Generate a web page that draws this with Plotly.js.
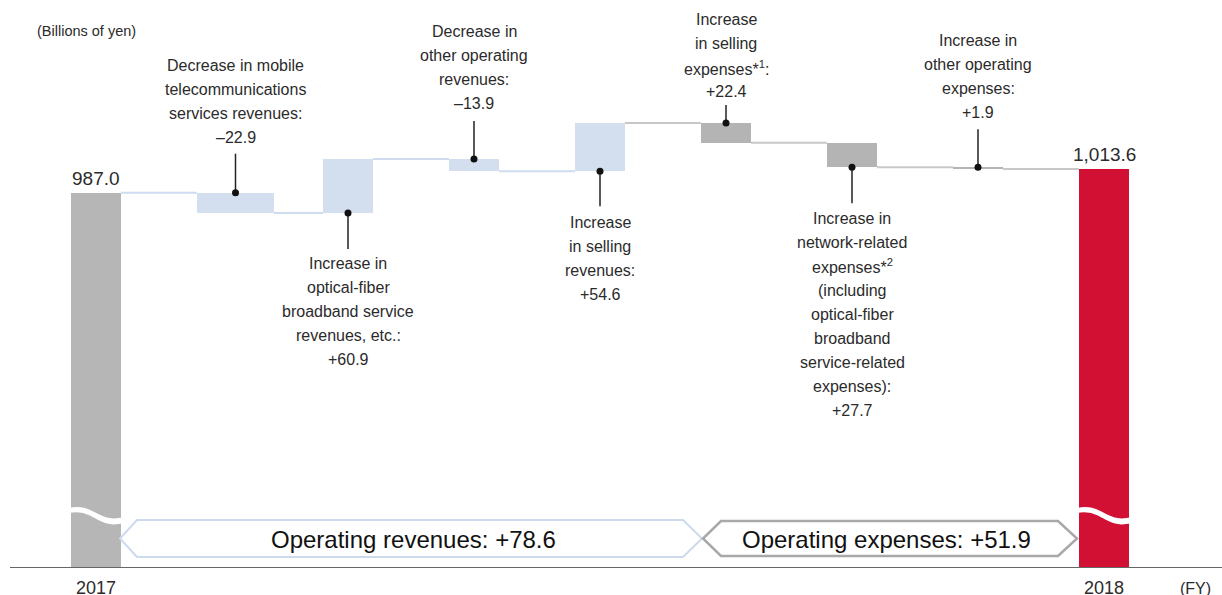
<!DOCTYPE html>
<html>
<head>
<meta charset="utf-8">
<script src="https://cdn.plot.ly/plotly-3.0.1.min.js"></script>
<style>
  html, body { margin: 0; padding: 0; background: #fff; }
  #chart { width: 1222px; height: 595px; }
</style>
</head>
<body>
<div id="chart"></div>
<script>
/* ---------- data ---------- */

const steps = ['2017', 'mobile', 'optical', 'otherRev', 'sellingRev', 'sellingExp', 'networkExp', 'otherExp', '2018'];
const deltas = [987.0, -22.9, 60.9, -13.9, 54.6, -22.4, -27.7, -1.9, 1013.6];
const measures = ['total', 'relative', 'relative', 'relative', 'relative', 'relative', 'relative', 'relative', 'total'];
const groups = ['start', 'rev', 'rev', 'rev', 'rev', 'exp', 'exp', 'exp', 'end'];
const yearLabels = ['2017', '2018'];

const stepTexts = [
    '',
    'Decrease in mobile<br>telecommunications<br>services revenues:',
    'Increase in<br>optical-fiber<br>broadband service<br>revenues, etc.:',
    'Decrease in<br>other operating<br>revenues:',
    'Increase<br>in selling<br>revenues:',
    'Increase<br>in selling<br>expenses*<sup>1</sup>:',
    'Increase in<br>network-related<br>expenses*<sup>2</sup><br>(including<br>optical-fiber<br>broadband<br>service-related<br>expenses):',
    'Increase in<br>other operating<br>expenses:',
    ''
];

const revenueTotal = 78.6;
const expenseTotal = 51.9;

/* ---------- styles ---------- */

const W = 1222, H = 595;
const M = { l: 10, r: 0, t: 20, b: 28 };
const PX_PER_STEP = 126;
const FIRST_BAR_PX = 96;
const PX_PER_UNIT = 0.886;
const BASE_PX = 192.7;   // pixel row of the first total

const colors = { start: '#b5b6b5', rev: '#d3deef', exp: '#b4b4b4', end: '#d21034' };
const connectorColors = { rev: '#cfdbee', exp: '#c8c8c8' };
const barWidths = [50, 77, 50, 50, 50, 50, 50, 50, 50].map(w => w / PX_PER_STEP);
const barOffset = -25 / PX_PER_STEP;
const labelSide = ['', 'above', 'below', 'above', 'below', 'above', 'below', 'above', ''];
const leaderLen = [0, 39, 36, 38, 35, 18, 36, 38, 0];      // px
const labelOffset = [0, 55, 51, 56, 51, 31, 51, 55, 0];    // px, dot to nearest text line
const LINE_GAP = 24;

const labelFont = { family: 'Liberation Sans, Arial, sans-serif', size: 16, color: '#2b2b2b' };
const bannerFont = { family: 'Liberation Sans, Arial, sans-serif', size: 24, color: '#111' };

function px(xp) { return (xp - M.l) / (W - M.l - M.r); }
function py(yp) { return (H - M.b - yp) / (H - M.t - M.b); }

/* ---------- waterfall geometry from the data ---------- */

const x = steps.map((_, i) => i);
const bases = [];
const ends = [];
let level = 0;
deltas.forEach((d, i) => {
    if (measures[i] === 'total') {
        bases.push(0);
        level = d;
    } else {
        bases.push(level);
        level += d;
    }
    ends.push(level);
});

const fmt = v => (v < 0 ? '–' : '+') + Math.abs(v).toFixed(1);
const fmtTotal = v => v.toLocaleString('en-US', { minimumFractionDigits: 1, maximumFractionDigits: 1 });

const barTrace = {
    type: 'bar',
    x: x,
    y: deltas,
    base: bases,
    width: barWidths,
    offset: barOffset,
    marker: { color: groups.map(g => colors[g]), line: { width: 0 } },
    hoverinfo: 'skip'
};

function connectorTrace(group) {
    const cx = [], cy = [];
    for (let i = 0; i < steps.length - 1; i++) {
        const g = i < 4 ? 'rev' : 'exp';
        if (g !== group) continue;
        cx.push(x[i] + barOffset + barWidths[i], x[i + 1] + barOffset, null);
        cy.push(ends[i], ends[i], null);
    }
    return {
        type: 'scatter', mode: 'lines', x: cx, y: cy,
        line: { color: connectorColors[group], width: 2 },
        hoverinfo: 'skip'
    };
}

const centers = x.map((v, i) => v + barOffset + barWidths[i] / 2);
const anchorY = deltas.map((d, i) => {
    const lo = Math.min(bases[i], ends[i]);
    const hi = Math.max(bases[i], ends[i]);
    return labelSide[i] === 'above' ? hi : lo;
});
const dotIdx = x.filter(i => labelSide[i] !== '');

const dotTrace = {
    type: 'scatter', mode: 'markers',
    x: dotIdx.map(i => centers[i]),
    y: dotIdx.map(i => anchorY[i]),
    marker: { color: '#111', size: 7 },
    hoverinfo: 'skip'
};

const leaderX = [], leaderY = [];
dotIdx.forEach(i => {
    const dir = labelSide[i] === 'above' ? 1 : -1;
    leaderX.push(centers[i], centers[i], null);
    leaderY.push(anchorY[i], anchorY[i] + dir * leaderLen[i] / PX_PER_UNIT, null);
});
const leaderTrace = {
    type: 'scatter', mode: 'lines', x: leaderX, y: leaderY,
    line: { color: '#222', width: 1.5 }, hoverinfo: 'skip'
};

/* ---------- annotations ---------- */

const annotations = [];

dotIdx.forEach(i => {
    const shown = groups[i] === 'exp' ? -deltas[i] : deltas[i];
    const lines = stepTexts[i].split('<br>').concat([fmt(shown)]);
    const n = lines.length;
    const above = labelSide[i] === 'above';
    lines.forEach((t, k) => {
        annotations.push({
            x: centers[i], y: anchorY[i], xref: 'x', yref: 'y',
            text: t, showarrow: false,
            xanchor: 'center', yanchor: 'middle',
            yshift: above ? labelOffset[i] + (n - 1 - k) * LINE_GAP : -(labelOffset[i] + k * LINE_GAP),
            font: labelFont
        });
    });
});

[0, steps.length - 1].forEach(i => {
    annotations.push({
        x: centers[i], y: ends[i], xref: 'x', yref: 'y',
        text: fmtTotal(deltas[i]), showarrow: false,
        xanchor: 'center', yanchor: 'bottom', yshift: 2,
        font: { ...labelFont, size: 19 }
    });
});

annotations.push(
    { x: px(35), y: py(31), xref: 'paper', yref: 'paper', xanchor: 'left', yanchor: 'middle',
      text: '(Billions of yen)', showarrow: false, font: { ...labelFont, size: 14.5 } },
    { x: px(1195), y: py(588), xref: 'paper', yref: 'paper', xanchor: 'center', yanchor: 'middle',
      text: '(FY)', showarrow: false, font: { ...labelFont, size: 16 } },
    { x: px(413), y: py(539), xref: 'paper', yref: 'paper', xanchor: 'center', yanchor: 'middle',
      text: 'Operating revenues: ' + fmt(revenueTotal), showarrow: false, font: bannerFont },
    { x: px(886), y: py(539), xref: 'paper', yref: 'paper', xanchor: 'center', yanchor: 'middle',
      text: 'Operating expenses: ' + fmt(expenseTotal), showarrow: false, font: bannerFont }
);

/* ---------- shapes: banners and axis breaks ---------- */

function polyPath(pts) {
    return 'M ' + pts.map(p => px(p[0]).toFixed(5) + ',' + py(p[1]).toFixed(5)).join(' L ') + ' Z';
}

function breakPath(cxPx) {
    const L = cxPx - 27, R = cxPx + 27;
    const P = (a, b) => px(a).toFixed(5) + ',' + py(b).toFixed(5);
    return 'M ' + P(L, 508) +
        ' C ' + P(L + 24, 502) + ' ' + P(R - 24, 524) + ' ' + P(R, 517) +
        ' L ' + P(R, 523) +
        ' C ' + P(R - 24, 530) + ' ' + P(L + 24, 508) + ' ' + P(L, 513) + ' Z';
}

const shapes = [
    { type: 'path', xref: 'paper', yref: 'paper',
      path: polyPath([[137, 520], [683, 520], [702, 538.5], [683, 557], [137, 557], [120, 538.5]]),
      line: { color: '#cddaed', width: 2 }, fillcolor: 'rgba(0,0,0,0)' },
    { type: 'path', xref: 'paper', yref: 'paper',
      path: polyPath([[721, 521], [1058, 521], [1077, 538.5], [1058, 556], [721, 556], [703, 538.5]]),
      line: { color: '#a8a8a8', width: 2.5 }, fillcolor: 'rgba(0,0,0,0)' },
    { type: 'path', xref: 'paper', yref: 'paper', path: breakPath(96),
      line: { width: 0 }, fillcolor: '#ffffff' },
    { type: 'path', xref: 'paper', yref: 'paper', path: breakPath(1104),
      line: { width: 0 }, fillcolor: '#ffffff' }
];

/* ---------- layout ---------- */

const yTop = deltas[0] + (BASE_PX - M.t) / PX_PER_UNIT;
const yBottom = deltas[0] - (H - M.b - BASE_PX) / PX_PER_UNIT;

const layout = {
    width: W, height: H,
    margin: M,
    paper_bgcolor: '#fff',
    plot_bgcolor: 'rgba(0,0,0,0)',
    showlegend: false,
    bargap: 0,
    xaxis: {
        range: [(M.l - FIRST_BAR_PX) / PX_PER_STEP, (W - M.r - FIRST_BAR_PX) / PX_PER_STEP],
        tickvals: [0, steps.length - 1],
        ticktext: yearLabels,
        ticks: '',
        ticklabelstandoff: 4,
        tickfont: { ...labelFont, size: 18 },
        showgrid: false, zeroline: false,
        showline: true, linecolor: '#666', linewidth: 1,
        fixedrange: true
    },
    yaxis: {
        range: [yBottom, yTop],
        visible: false,
        fixedrange: true
    },
    annotations: annotations,
    shapes: shapes
};

Plotly.newPlot('chart', [barTrace, connectorTrace('rev'), connectorTrace('exp'), leaderTrace, dotTrace], layout,
    { displayModeBar: false, staticPlot: true });
</script>
</body>
</html>
